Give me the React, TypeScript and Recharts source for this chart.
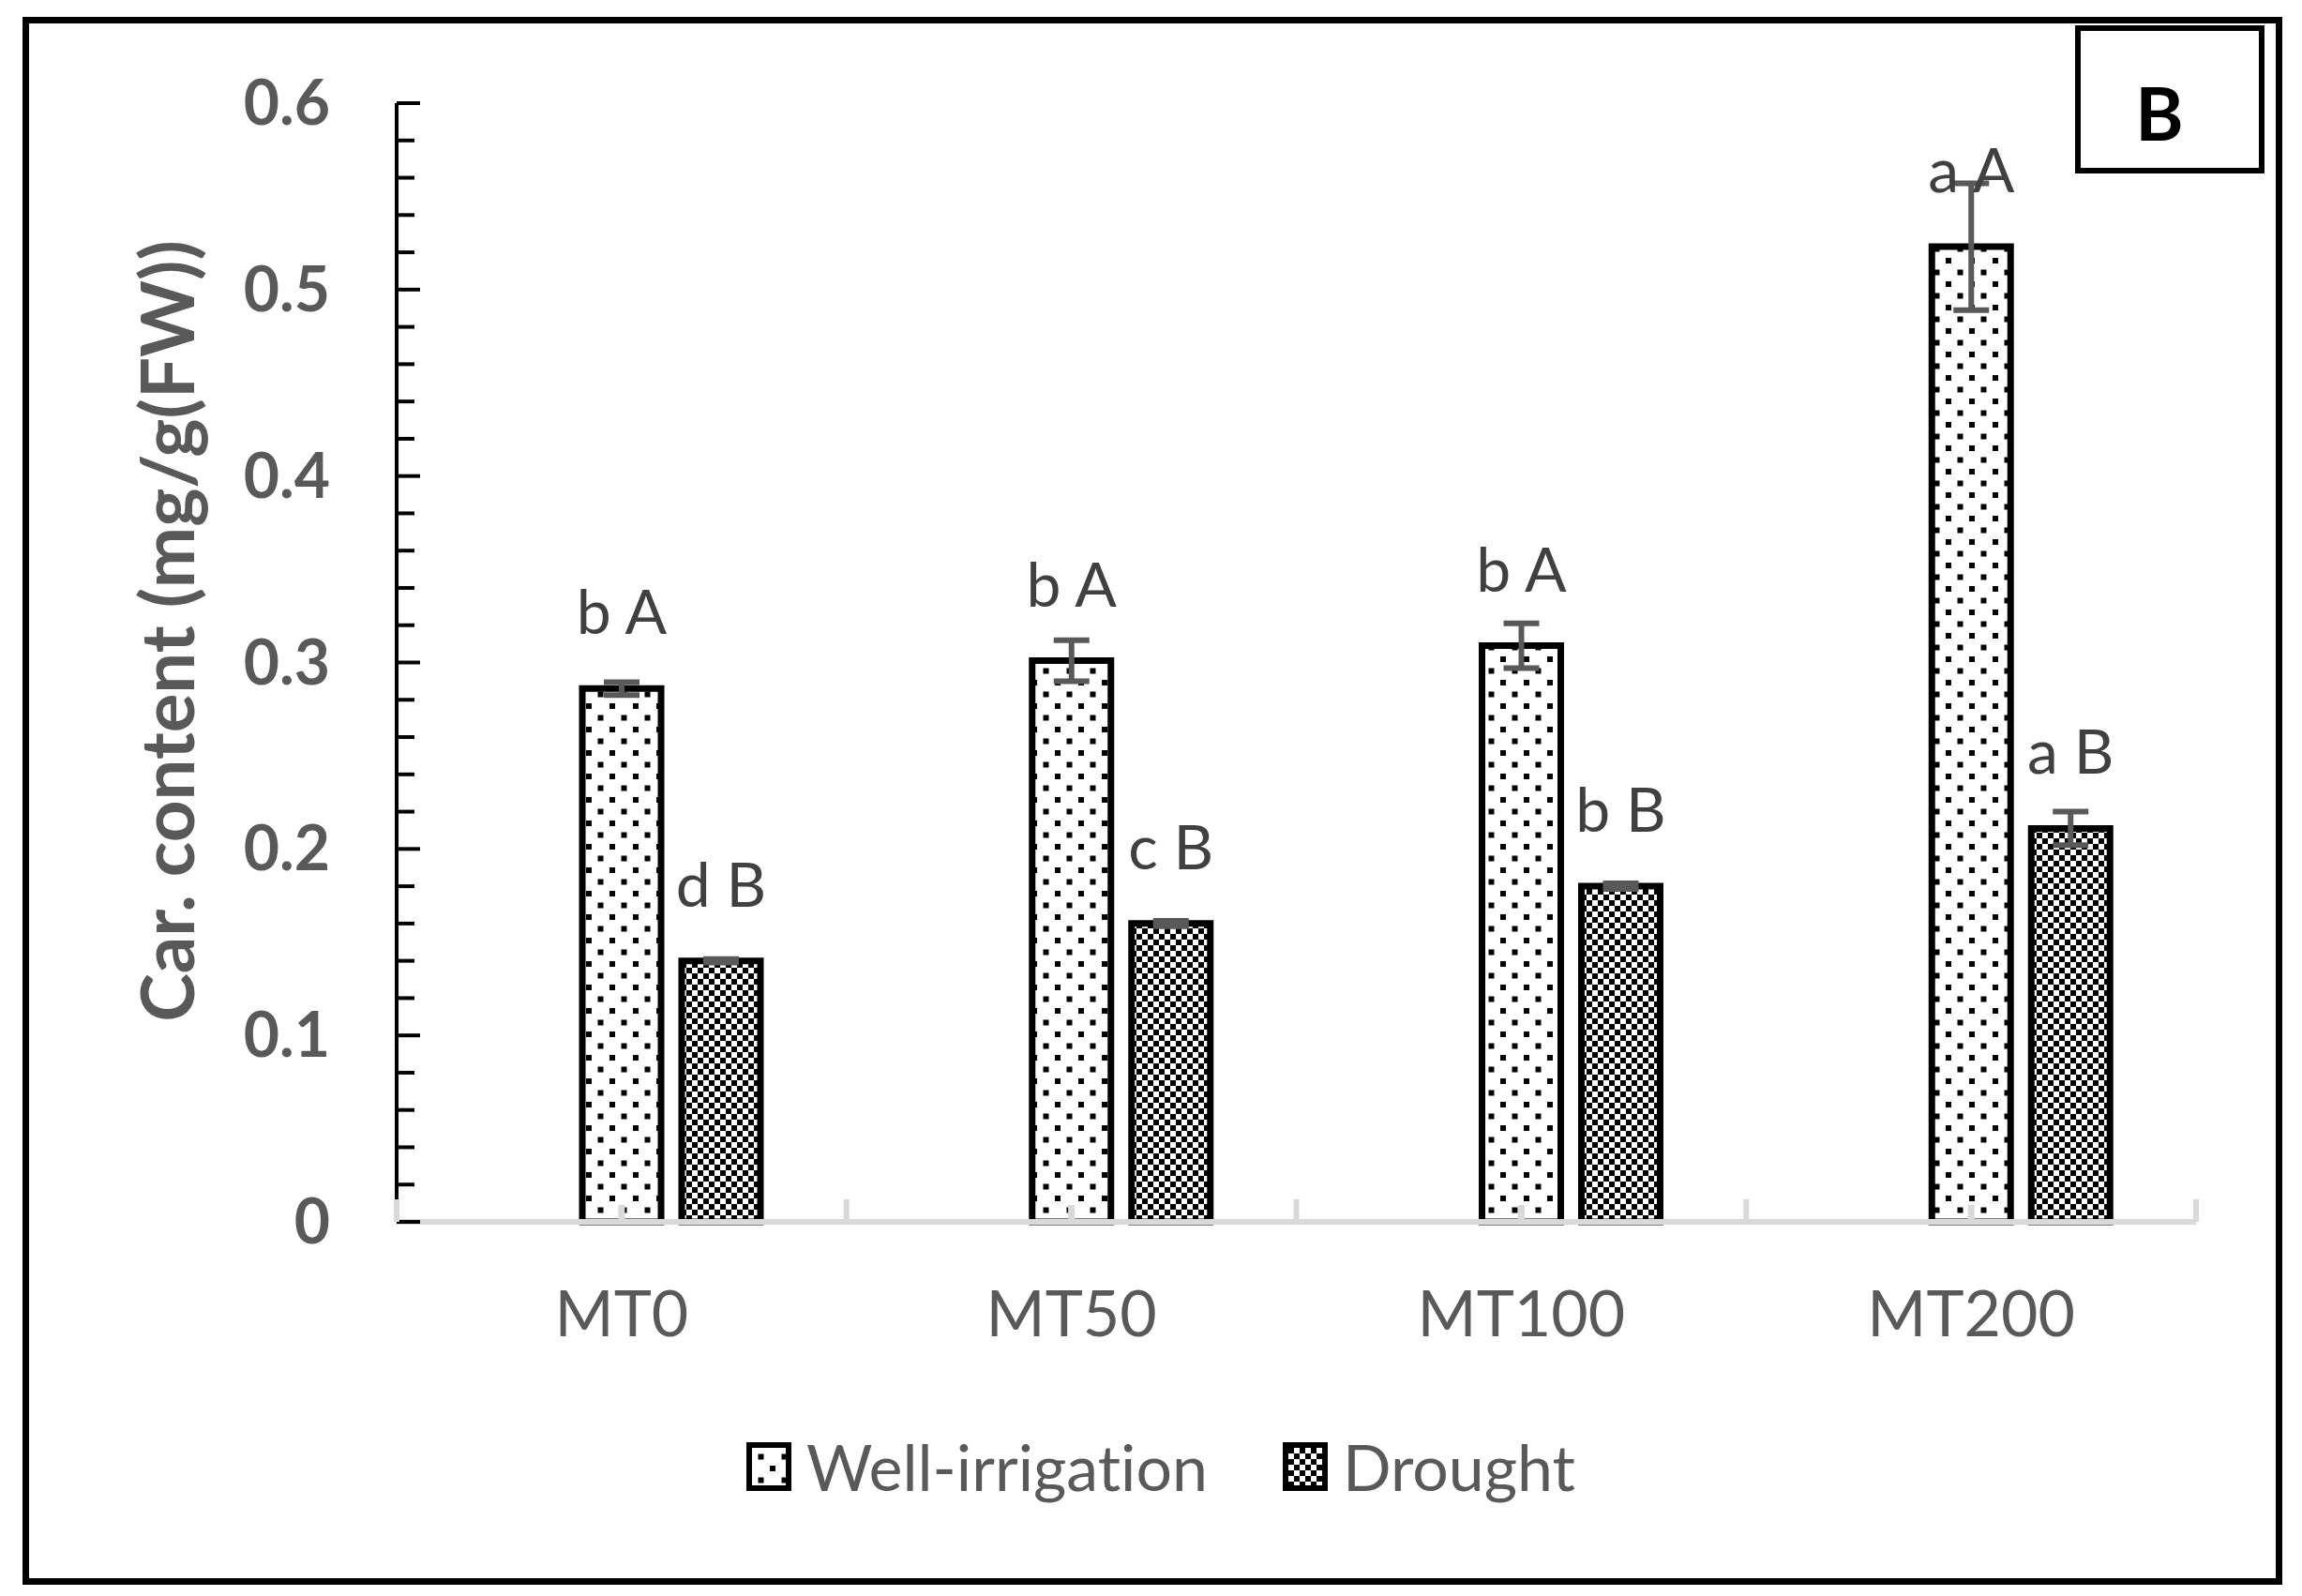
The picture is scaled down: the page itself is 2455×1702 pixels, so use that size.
import React from "react";
import { BarChart, Bar, XAxis, YAxis, ErrorBar, LabelList, Legend } from "recharts";

// values (panel B)
const CATEGORIES = ["MT0", "MT50", "MT100", "MT200"];
const WELL = [0.286, 0.301, 0.309, 0.523];
const WELL_ERR = [0.0035, 0.011, 0.012, 0.034];
const DROUGHT = [0.14, 0.16, 0.18, 0.211];
const DROUGHT_ERR = [0.001, 0.0015, 0.0015, 0.009];
const WELL_LETTERS = ["b A", "b A", "b A", "a A"];
const DROUGHT_LETTERS = ["d B", "c B", "b B", "a B"];
const SERIES = ["Well-irrigation", "Drought"];
const Y_TICKS = [
  0, 0.02, 0.04, 0.06, 0.08, 0.1, 0.12, 0.14, 0.16, 0.18, 0.2, 0.22, 0.24, 0.26, 0.28, 0.3,
  0.32, 0.34, 0.36, 0.38, 0.4, 0.42, 0.44, 0.46, 0.48, 0.5, 0.52, 0.54, 0.56, 0.58, 0.6,
];

const data = CATEGORIES.map((name, i) => ({
  name,
  well: WELL[i],
  wellErr: WELL_ERR[i],
  wellLetters: WELL_LETTERS[i],
  drought: DROUGHT[i],
  droughtErr: DROUGHT_ERR[i],
  droughtLetters: DROUGHT_LETTERS[i],
}));

const W = 2455;
const H = 1702;
const PLOT_LEFT = 423;
const PLOT_RIGHT = 2342;
const PLOT_TOP = 110;
const PLOT_BOTTOM = 1303;
const XAXIS_H = 200;
const HALF_BAND = (PLOT_RIGHT - PLOT_LEFT) / CATEGORIES.length / 2;

const FONT = "Lato, 'Open Sans', sans-serif";
const GREY = "#595959";
const NOLIG = { fontVariantLigatures: "none" as const };

function YTick(props: any) {
  const { x, y, payload } = props;
  const v = payload.value as number;
  const major = Math.abs(v * 10 - Math.round(v * 10)) < 1e-6;
  return (
    <g>
      <line x1={x} x2={x + (major ? 25 : 19)} y1={y} y2={y} stroke="#000" strokeWidth={4} />
      {major && (
        <text x={x - 71} y={y + 23} textAnchor="end" fontSize={66} fontWeight={700} fill={GREY} fontFamily={FONT}>
          {v === 0 ? "0" : v.toFixed(1)}
        </text>
      )}
    </g>
  );
}

function XTick(props: any) {
  const { x, y, payload, index } = props;
  const last = index === CATEGORIES.length - 1;
  return (
    <g>
      <line x1={x - HALF_BAND} x2={x - HALF_BAND} y1={y} y2={y - 24} stroke="#d9d9d9" strokeWidth={6} />
      <line x1={x} x2={x} y1={y} y2={y - 18} stroke="#d9d9d9" strokeWidth={7} />
      {last && (
        <line x1={x + HALF_BAND} x2={x + HALF_BAND} y1={y} y2={y - 24} stroke="#d9d9d9" strokeWidth={6} />
      )}
      <text x={x} y={y + 122} textAnchor="middle" fontSize={68} fill={GREY} fontFamily={FONT}>
        {payload.value}
      </text>
    </g>
  );
}

const renderLetters = (props: any) => {
  const { x, y, width, value } = props;
  return (
    <text x={x + width / 2} y={y - 58} textAnchor="middle" fontSize={66} fill="#404040" fontFamily={FONT}>
      {value}
    </text>
  );
};

const YTitle = () => (
  <text
    x={184}
    y={696}
    textAnchor="middle"
    fontSize={78}
    fontWeight={700}
    fill={GREY}
    fontFamily={FONT}
    transform="rotate(-90 184 673)"
  >
    Car. content (mg/g(FW))
  </text>
);

const FILLS = ["url(#dots)", "url(#checker)"];

const LegendContent = () => (
  <div style={{ display: "flex", alignItems: "center", fontFamily: FONT, fontSize: 68, color: GREY, ...NOLIG }}>
    {SERIES.map((s, i) => (
      <div key={s} style={{ display: "flex", alignItems: "center", marginRight: i === 0 ? 80 : 0 }}>
        <svg width={48} height={52} style={{ marginRight: 16 }}>
          <rect x={3} y={3} width={42} height={46} fill={FILLS[i]} stroke="#000" strokeWidth={6} />
        </svg>
        <span>{s}</span>
      </div>
    ))}
  </div>
);

export default function App() {
  return (
    <div style={{ position: "absolute", left: 0, top: 0, width: W, height: H, background: "#fff", fontFamily: FONT, ...NOLIG }}>
      <BarChart
        width={W}
        height={H}
        data={data}
        margin={{ top: PLOT_TOP, right: W - PLOT_RIGHT, left: 0, bottom: H - PLOT_BOTTOM - XAXIS_H }}
        barSize={84}
        barGap={22}
      >
        <defs>
          <pattern id="dots" patternUnits="userSpaceOnUse" width={25} height={25}>
            <rect width={25} height={25} fill="#fff" />
            <rect x={0} y={0} width={6} height={6} fill="#000" />
            <rect x={12.5} y={12.5} width={6} height={6} fill="#000" />
          </pattern>
          <pattern id="checker" patternUnits="userSpaceOnUse" width={12} height={12}>
            <rect width={12} height={12} fill="#fff" />
            <rect x={0} y={0} width={6} height={6} fill="#000" />
            <rect x={6} y={6} width={6} height={6} fill="#000" />
          </pattern>
        </defs>
        <YAxis
          width={PLOT_LEFT}
          domain={[0, 0.6]}
          ticks={Y_TICKS}
          interval={0}
          tickSize={0}
          tickMargin={0}
          tickLine={false}
          axisLine={{ stroke: "#000", strokeWidth: 4 }}
          tick={(p: any) => <YTick {...p} />}
          label={{ content: () => <YTitle /> }}
        />
        <Bar dataKey="blank" fill="none" isAnimationActive={false} legendType="none" />
        <Bar dataKey="well" name={SERIES[0]} fill="url(#dots)" stroke="#000" strokeWidth={7} isAnimationActive={false}>
          <ErrorBar dataKey="wellErr" width={19} strokeWidth={6} stroke={GREY} direction="y" />
          <LabelList dataKey="wellLetters" content={renderLetters} />
        </Bar>
        <Bar dataKey="drought" name={SERIES[1]} fill="url(#checker)" stroke="#000" strokeWidth={7} isAnimationActive={false}>
          <ErrorBar dataKey="droughtErr" width={19} strokeWidth={6} stroke={GREY} direction="y" />
          <LabelList dataKey="droughtLetters" content={renderLetters} />
        </Bar>
        <XAxis
          dataKey="name"
          height={XAXIS_H}
          interval={0}
          tickSize={0}
          tickMargin={0}
          tickLine={false}
          axisLine={{ stroke: "#d9d9d9", strokeWidth: 6 }}
          tick={(p: any) => <XTick {...p} />}
        />
        <Legend
          layout="vertical"
          align="center"
          verticalAlign="middle"
          content={() => <LegendContent />}
          wrapperStyle={{ left: 796, top: 1523, width: 1000 }}
        />
      </BarChart>
      {/* outer frame */}
      <div
        style={{
          position: "absolute",
          left: 24,
          top: 18,
          width: 2434 - 24,
          height: 1690 - 18,
          border: "7px solid #000",
          boxSizing: "border-box",
          pointerEvents: "none",
        }}
      />
      {/* panel letter */}
      <div
        style={{
          position: "absolute",
          left: 2213,
          top: 27,
          width: 202,
          height: 158,
          border: "6px solid #000",
          boxSizing: "border-box",
          display: "flex",
          alignItems: "center",
          justifyContent: "center",
          paddingTop: 28,
          paddingRight: 22,
          fontFamily: FONT,
          fontWeight: 700,
          fontSize: 78,
          color: "#000",
        }}
      >
        B
      </div>
    </div>
  );
}
